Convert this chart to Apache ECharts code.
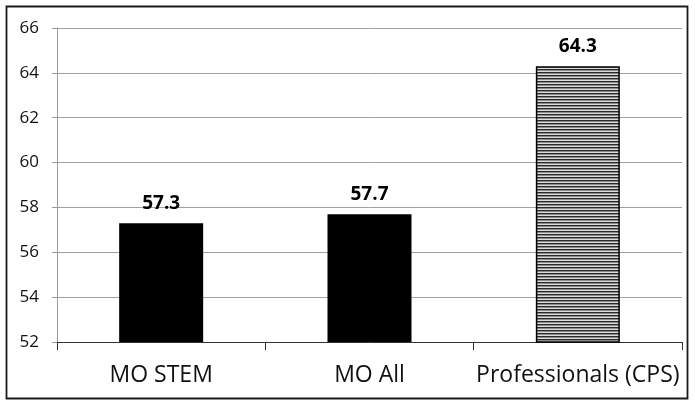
<!DOCTYPE html>
<html>
<head>
<meta charset="utf-8">
<script src="https://cdn.jsdelivr.net/npm/echarts@6/dist/echarts.min.js"></script>
<style>
  html, body { margin: 0; padding: 0; background: #fff; }
  #chart { width: 695px; height: 404px; }
</style>
</head>
<body>
<div id="chart"></div>
<script>
// Average values by group
const categories = ['MO STEM', 'MO All', 'Professionals (CPS)'];
const values = [57.3, 57.7, 64.3];
const yTicks = [52, 54, 56, 58, 60, 62, 64, 66];

// Horizontal hatch fill for the reference group
function hatchPattern() {
  const c = document.createElement('canvas');
  c.width = 4; c.height = 3;
  const g = c.getContext('2d');
  g.fillStyle = '#dcdcdc'; g.fillRect(0, 0, 4, 3);
  g.fillStyle = '#2a2a2a'; g.fillRect(0, 0, 4, 1);
  g.fillStyle = '#8a8a8a'; g.fillRect(0, 1, 4, 1);
  return c;
}

const barColors = ['#000000', '#000000', { image: hatchPattern(), repeat: 'repeat' }];

const chart = echarts.init(document.getElementById('chart'), null, { renderer: 'canvas' });
const font = 'Open Sans, Liberation Sans, sans-serif';

chart.setOption({
  animation: false,
  backgroundColor: '#fff',
  grid: { left: 57, right: 13, top: 28, bottom: 62 },
  graphic: [{
    type: 'rect',
    shape: { x: 6.5, y: 6.5, width: 681, height: 392 },
    style: { fill: 'none', stroke: '#1a1a1a', lineWidth: 1.8 },
    silent: true
  }],
  xAxis: {
    type: 'category',
    data: categories,
    axisLine: { lineStyle: { color: '#333', width: 1 } },
    axisTick: { show: true, length: 8, alignWithLabel: false, lineStyle: { color: '#333' } },
    axisLabel: { color: '#111', fontFamily: font, fontSize: 23, margin: 22, interval: 0 }
  },
  yAxis: {
    type: 'value',
    min: yTicks[0],
    max: yTicks[yTicks.length - 1],
    interval: 2,
    axisLine: { show: true, lineStyle: { color: '#999', width: 1 } },
    axisTick: { show: true, length: 5, lineStyle: { color: '#999' } },
    axisLabel: { color: '#111', fontFamily: font, fontSize: 17, margin: 18 },
    splitLine: { lineStyle: { color: '#a0a0a0', width: 1 } }
  },
  series: [{
    type: 'bar',
    barWidth: 84,
    data: values.map((v, i) => ({
      value: v,
      itemStyle: {
        color: barColors[i],
        borderColor: '#000',
        borderWidth: i === 2 ? 1.5 : 0
      }
    })),
    label: {
      show: true,
      position: 'top',
      distance: 10,
      color: '#000',
      fontFamily: font,
      fontWeight: 'bold',
      fontSize: 19,
      formatter: p => p.value.toFixed(1)
    }
  }]
});
</script>
</body>
</html>
